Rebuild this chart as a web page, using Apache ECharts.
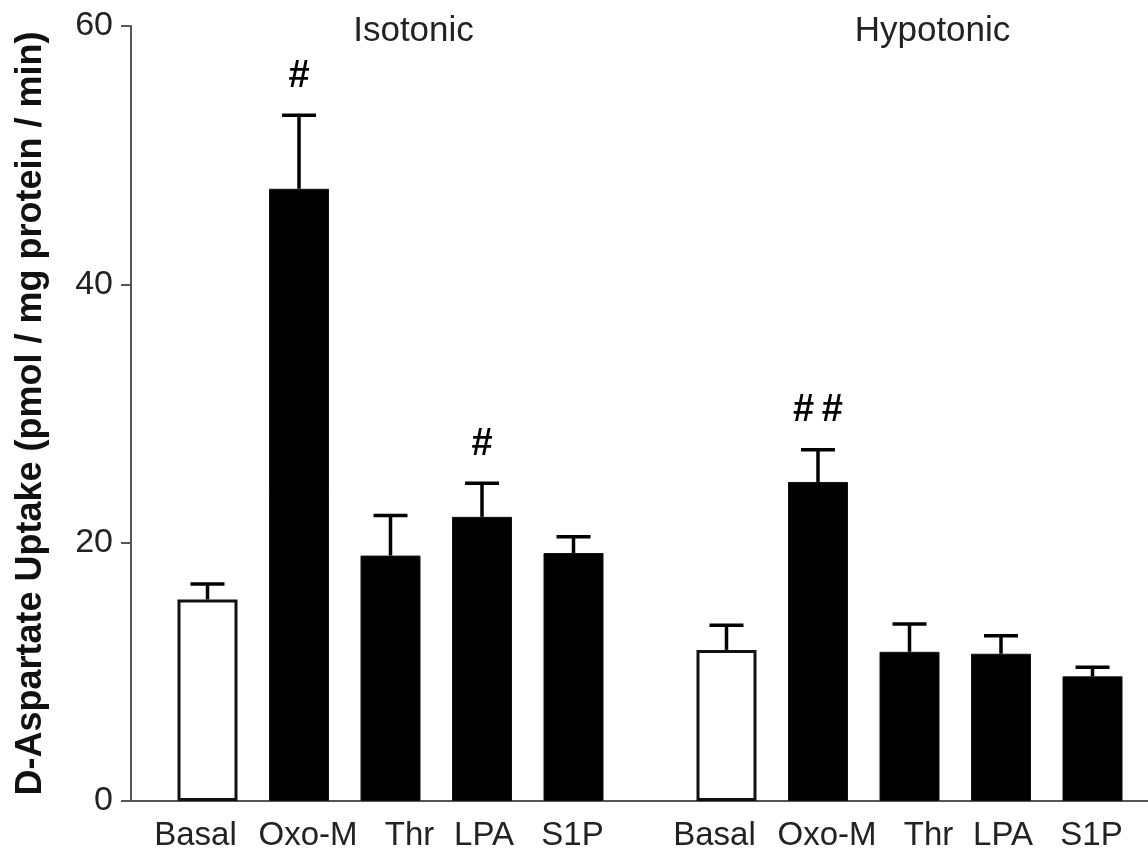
<!DOCTYPE html>
<html>
<head>
<meta charset="utf-8">
<script src="https://cdn.jsdelivr.net/npm/echarts@6/dist/echarts.min.js"></script>
<style>
  html, body { margin: 0; padding: 0; background: #fff; }
  #chart { width: 1148px; height: 856px; }
</style>
</head>
<body>
<div id="chart"></div>
<script>
// ---- data ----
const conditions = ['Isotonic', 'Hypotonic'];
const treatments = ['Basal', 'Oxo-M', 'Thr', 'LPA', 'S1P'];
const isotonicMean = [15.6, 47.4, 19.0, 22.0, 19.2];
const isotonicSem = [1.2, 5.7, 3.1, 2.6, 1.25];
const hypotonicMean = [11.7, 24.7, 11.55, 11.4, 9.65];
const hypotonicSem = [1.9, 2.5, 2.15, 1.4, 0.7];
const isotonicMarks = ['', '#', '', '#', ''];
const hypotonicMarks = ['', '##', '', '', ''];
const yTicks = [0, 20, 40, 60];
const yAxisTitle = 'D-Aspartate Uptake (pmol / mg protein / min)';

// ---- styling ----
const FONT = 'Liberation Sans, Arial, Helvetica, sans-serif';
const BAR_W = 60;
const BAR_GAP = 31.5;          // px between bars within a group
const STEP = BAR_W + BAR_GAP;  // centre-to-centre distance
const labelShift = [-12, 9, 19, 2, -1];

const chart = echarts.init(document.getElementById('chart'), null, { renderer: 'canvas' });

const series = [];
treatments.forEach((t, i) => {
  const isBasal = i === 0;
  series.push({
    name: t,
    type: 'bar',
    xAxisIndex: 0,
    yAxisIndex: 0,
    barWidth: BAR_W,
    barGap: (BAR_GAP / BAR_W * 100) + '%',
    data: [isotonicMean[i], hypotonicMean[i]],
    itemStyle: {
      color: isBasal ? '#ffffff' : '#000000',
      borderColor: '#111',
      borderWidth: isBasal ? 3 : 1
    },
    label: {
      show: true,
      position: 'bottom',
      distance: 18,
      offset: [labelShift[i], 0],
      formatter: t,
      fontFamily: FONT,
      fontSize: 33,
      color: '#222'
    },
    silent: true,
    animation: false,
    z: 2
  });
});

treatments.forEach((t, i) => {
  series.push({
    name: t + ' err',
    type: 'custom',
    xAxisIndex: 0,
    yAxisIndex: 0,
    z: 5,
    silent: true,
    animation: false,
    data: [
      [0, isotonicMean[i], isotonicSem[i]],
      [1, hypotonicMean[i], hypotonicSem[i]]
    ],
    renderItem: function (params, api) {
      const cat = api.value(0);
      const mean = api.value(1);
      const sem = api.value(2);
      const mark = params.dataIndex === 0 ? isotonicMarks[i] : hypotonicMarks[i];
      const base = api.coord([cat, mean]);
      const top = api.coord([cat, mean + sem]);
      const x = base[0] + (i - 2) * STEP;
      const half = 17;
      const children = [
        { type: 'line', shape: { x1: x, y1: base[1], x2: x, y2: top[1] },
          style: { stroke: '#000', lineWidth: 3.5 } },
        { type: 'line', shape: { x1: x - half, y1: top[1], x2: x + half, y2: top[1] },
          style: { stroke: '#000', lineWidth: 3.5 } }
      ];
      if (mark) {
        children.push({
          type: 'text',
          style: {
            text: mark.split('').join('\u2009'),
            x: x,
            y: top[1] - 39,
            align: 'center',
            verticalAlign: 'middle',
            fontFamily: FONT,
            fontWeight: 'bold',
            fontSize: 38,
            fill: '#000'
          }
        });
      }
      return { type: 'group', children: children };
    }
  });
});

const option = {
  backgroundColor: '#ffffff',
  animation: false,
  grid: {
    left: 131, width: 1038, top: 26, bottom: 55,
    containLabel: false,
    outerBoundsMode: 'none'
  },
  xAxis: [
    {
      type: 'category',
      data: conditions,
      position: 'bottom',
      axisLine: { show: true, lineStyle: { color: '#555', width: 2 } },
      axisTick: { show: false },
      axisLabel: { show: false },
      splitLine: { show: false }
    },
    {
      type: 'category',
      data: conditions,
      position: 'top',
      axisLine: { show: false },
      axisTick: { show: false },
      axisLabel: {
        show: true,
        inside: true,
        margin: -12,
        padding: [0, 0, 0, 46],
        fontFamily: FONT,
        fontSize: 35,
        color: '#222'
      },
      splitLine: { show: false }
    }
  ],
  yAxis: {
    type: 'value',
    min: yTicks[0],
    max: yTicks[yTicks.length - 1],
    interval: yTicks[1] - yTicks[0],
    name: yAxisTitle,
    nameLocation: 'middle',
    nameGap: 82,
    nameTextStyle: {
      fontFamily: FONT,
      fontWeight: 'bold',
      fontSize: 36,
      color: '#111'
    },
    axisLine: { show: true, lineStyle: { color: '#555', width: 2 } },
    axisTick: { show: true, length: 10, lineStyle: { color: '#555', width: 2 } },
    axisLabel: {
      fontFamily: FONT,
      fontSize: 34,
      color: '#222',
      margin: 18
    },
    splitLine: { show: false }
  },
  series: series
};

chart.setOption(option);
</script>
</body>
</html>
